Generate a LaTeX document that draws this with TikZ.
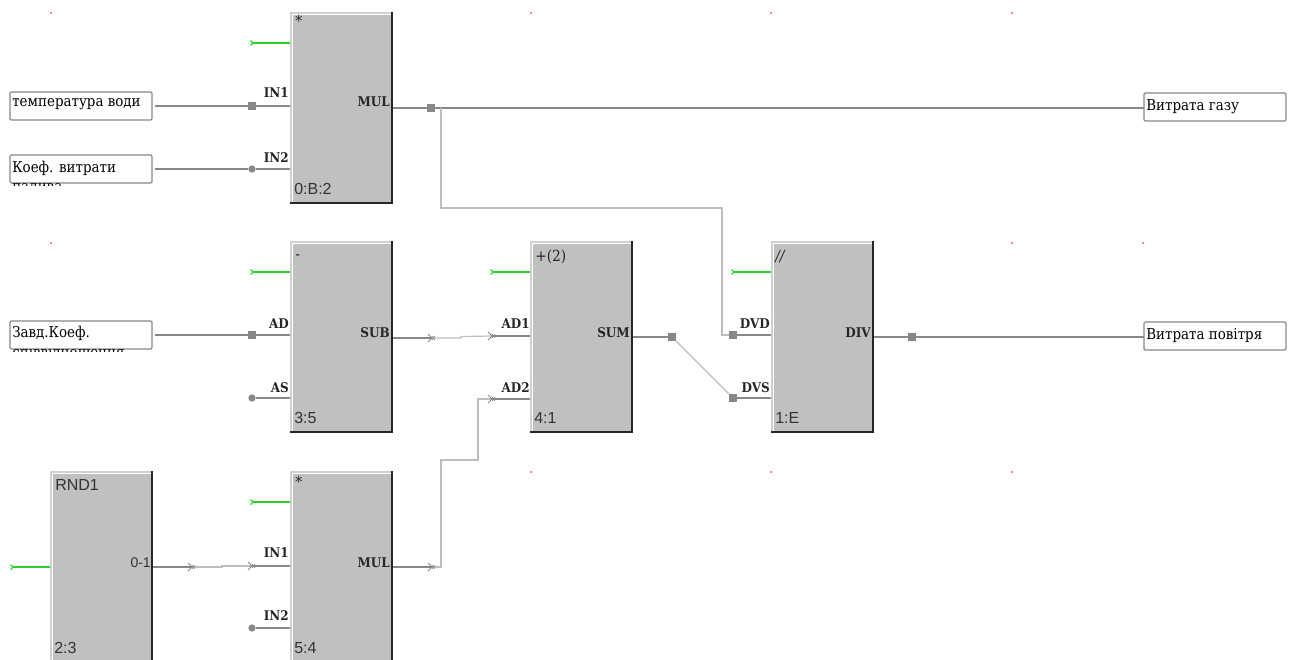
\documentclass[tikz,border=0pt]{standalone}
\usepackage{fontspec}
\setmainfont{Liberation Serif}
\newfontfamily\pinfont{DejaVu Serif Condensed}[Scale=1]
\newfontfamily\cellfont{Liberation Sans}
\definecolor{blockfill}{RGB}{192,192,192}
\definecolor{stub}{RGB}{136,136,136}
\definecolor{lightwire}{RGB}{190,190,190}
\definecolor{bevel}{RGB}{208,208,208}
\definecolor{enable}{RGB}{40,210,40}
\definecolor{gridred}{RGB}{240,70,70}
\tikzset{
  blockbox/.style={rectangle,fill=blockfill,minimum width=76.5pt,minimum height=143.25pt,inner sep=0pt,outer sep=0pt,anchor=north west},
  ioframe/.style={rectangle,draw=stub,line width=0.9pt,rounded corners=1pt,fill=white,minimum width=106.5pt,minimum height=21pt,inner sep=0pt,outer sep=0pt,anchor=north west},
  iotext/.style={font=\pinfont\fontsize{11.2}{13}\selectfont,text=black,inner sep=0pt,anchor=base west},
  pinlabel/.style={font=\pinfont\bfseries\fontsize{10}{12}\selectfont,text=black!85,inner sep=0pt,anchor=base east},
  blocktitle/.style={font=\pinfont\fontsize{11.5}{13}\selectfont,text=black!85,inner sep=0pt,anchor=base west},
  celltext/.style={font=\cellfont\fontsize{12}{14}\selectfont,text=black!80,inner sep=0pt,anchor=base west},
  wire/.style={draw=stub,line width=0.9pt},
  softwire/.style={draw=lightwire,line width=0.9pt},
  enablewire/.style={draw=enable,line width=1pt},
  sqjoin/.style={rectangle,fill=stub,minimum size=6pt,inner sep=0pt,outer sep=0pt},
  rdjoin/.style={circle,fill=stub,minimum size=5.5pt,inner sep=0pt,outer sep=0pt},
  griddot/.style={circle,fill=gridred,minimum size=1.5pt,inner sep=0pt,outer sep=0pt},
  wiretip/.pic={
    \draw[stub,line width=0.6pt] (-4,-4) -- (0,0) -- (-4,4);
    \draw[stub,line width=0.5pt] (0,-2) -- (3,2) (0,2) -- (3,-2);
  },
  enabletip/.pic={
    \draw[enable,line width=0.8pt] (-1.5,-2.5) -- (1,0) -- (-1.5,2.5);
  }
}
\newcommand{\bevelbox}[1]{%
  \draw[bevel,line width=1.5pt] ([xshift=.75pt,yshift=-.75pt]#1.south west) -- ([xshift=.75pt,yshift=-.75pt]#1.north west) -- ([yshift=-.75pt]#1.north east);
  \draw[white,line width=0.75pt] ([xshift=1.9pt]#1.south west) -- ([xshift=1.9pt,yshift=-1.9pt]#1.north west) -- ([yshift=-1.9pt]#1.north east);
  \draw[black!85,line width=1.5pt] (#1.north east) -- (#1.south east) -- (#1.south west);
}
\begin{document}
\begin{tikzpicture}[x=0.75pt,y=-0.75pt]
\clip (0,0) rectangle (1296,660);
\fill[white] (0,0) rectangle (1296,660);
% grid dots
\foreach \n/\a/\b in {g1/51/13,g2/531/13,g3/771/13,g4/1012/13,g5/51/243,g6/1012/243,g7/1143/243,g8/531/472,g9/771/472,g10/1012/472}
  \node[griddot] (\n) at (\a,\b) {};
% blocks
\node[blockbox] (bA) at (290,12) {};
\node[blockbox] (bB) at (290,241) {};
\node[blockbox] (bC) at (530,241) {};
\node[blockbox] (bD) at (771,241) {};
\node[blockbox] (bE) at (50,471) {};
\node[blockbox] (bF) at (290,471) {};
% io frames
\node[ioframe] (i1) at (10,92) {};
\node[iotext] (t1) at (12,107) {температура води};
\node[ioframe] (i2) at (10,155) {};
\node[iotext] (t2) at (12,172) {Коеф. витрати};
\node[ioframe] (i3) at (10,321) {};
\node[iotext] (t3) at (12,337) {Завд.Коеф.};
\node[ioframe] (o1) at (1144,93) {};
\node[iotext] (to1) at (1146,110) {Витрата газу};
\node[ioframe] (o2) at (1144,322) {};
\node[iotext] (to2) at (1146,339) {Витрата повітря};
% second text lines, cut off by the frames
\begin{scope}
\clip (8,183.6) rectangle (156,185.6);
\node[iotext] (t2c) at (12,191) {палива};
\end{scope}
\begin{scope}
\clip (8,349.6) rectangle (156,351.6);
\node[iotext] (t3c) at (12,357) {співвідношення};
\end{scope}
% named wire points
\node[sqjoin] (jA1) at (252,106) {};
\node[rdjoin] (jA2) at (252,169) {};
\node[sqjoin] (jAo) at (431,108) {};
\node[sqjoin] (jB1) at (252,335) {};
\node[rdjoin] (jB2) at (252,398) {};
\node[sqjoin] (jCo) at (672,337) {};
\node[sqjoin] (jD1) at (733,335) {};
\node[sqjoin] (jD2) at (733,398) {};
\node[sqjoin] (jDo) at (912,337) {};
\node[rdjoin] (jF2) at (252,628) {};
\coordinate (tB) at (432,338);
\coordinate (tC1) at (492,336);
\coordinate (tC2) at (492,399);
\coordinate (tE) at (192,567);
\coordinate (tF1) at (252,566);
\coordinate (tFo) at (432,567);
% solid wires
\draw[wire] (i1.east |- jA1) ++(3,0) -- (jA1) -- (bA.west |- jA1);
\draw[wire] (i2.east |- jA2) ++(3,0) -- (jA2) -- (bA.west |- jA2);
\draw[wire] (i3.east |- jB1) ++(3,0) -- (jB1) -- (bB.west |- jB1);
\draw[wire] (jB2) -- (bB.west |- jB2);
\draw[wire] (jF2) -- (bF.west |- jF2);
\draw[wire] (bA.east |- jAo) -- (jAo) -- (o1.west |- jAo);
\draw[wire] (bB.east |- tB) -- (tB);
\draw[wire] (tC1) -- (bC.west |- tC1);
\draw[wire] (tC2) -- (bC.west |- tC2);
\draw[wire] (bC.east |- jCo) -- (jCo);
\draw[wire] (jD1) -- (bD.west |- jD1);
\draw[wire] (jD2) -- (bD.west |- jD2);
\draw[wire] (bD.east |- jDo) -- (jDo) -- (o2.west |- jDo);
\draw[wire] (bE.east |- tE) -- (tE);
\draw[wire] (tF1) -- (bF.west |- tF1);
\draw[wire] (bF.east |- tFo) -- (tFo);
% light routed wires
\draw[softwire] (441,108) -- (441,208) -- (722,208) -- (722,335) -- (jD1);
\draw[softwire] (jCo) -- (jD2);
\draw[softwire] (tB) -- (461,338) -- (461,336.5) -- (tC1);
\draw[softwire] (tE) -- (222,567) -- (222,566) -- (tF1);
\draw[softwire] (tFo) -- (441,567) -- (441,460) -- (478,460) -- (478,399) -- (tC2);
% tips
\foreach \c in {tB,tC1,tC2,tE,tF1,tFo} \pic at (\c) {wiretip};
% enable stubs
\foreach \b/\e/\ty in {bA/eA/43,bB/eB/272,bC/eC/272,bD/eD/272,bE/eE/567,bF/eF/502}{
  \path (\b.west) ++(-38,0) coordinate (\e);
  \coordinate (\e) at (\e |- 0,\ty);
  \draw[enablewire] (\e) -- (\b.west |- \e);
  \pic at (\e) {enabletip};
}
% block borders
\foreach \b in {bA,bB,bC,bD,bE,bF} { \bevelbox{\b} }
% block titles
\node[blocktitle] (hA) at (295,27) {*};
\node[blocktitle] (hB) at (295,259) {-};
\node[blocktitle] (hC) at (535,261) {+(2)};
\node[blocktitle] (hD) at (775,261) {\itshape //};
\node[celltext] (hE) at (55,490) {RND1};
\node[blocktitle] (hF) at (295,487) {*};
% block ids
\node[celltext] (cA) at (294,194) {0:B:2};
\node[celltext] (cB) at (294,423) {3:5};
\node[celltext] (cC) at (534,423) {4:1};
\node[celltext] (cD) at (775,423) {1:E};
\node[celltext] (cE) at (54,653) {2:3};
\node[celltext] (cF) at (294,653) {5:4};
% pin labels
\node[pinlabel] (pA1) at (289,98) {IN1};
\node[pinlabel] (pA2) at (289,162) {IN2};
\node[pinlabel] (pAo) at (390,107) {MUL};
\node[pinlabel] (pB1) at (289,328) {AD};
\node[pinlabel] (pB2) at (289,392) {AS};
\node[pinlabel] (pBo) at (390,337) {SUB};
\node[pinlabel] (pC1) at (530,328) {AD1};
\node[pinlabel] (pC2) at (530,392) {AD2};
\node[pinlabel] (pCo) at (630,337) {SUM};
\node[pinlabel] (pD1) at (770,328) {DVD};
\node[pinlabel] (pD2) at (770,392) {DVS};
\node[pinlabel] (pDo) at (871,337) {DIV};
\node[celltext,anchor=base east,font=\cellfont\fontsize{10.5}{12}\selectfont] (pEo) at (151,567) {0-1};
\node[pinlabel] (pF1) at (289,557) {IN1};
\node[pinlabel] (pF2) at (289,620) {IN2};
\node[pinlabel] (pFo) at (390,567) {MUL};
\end{tikzpicture}
\end{document}
